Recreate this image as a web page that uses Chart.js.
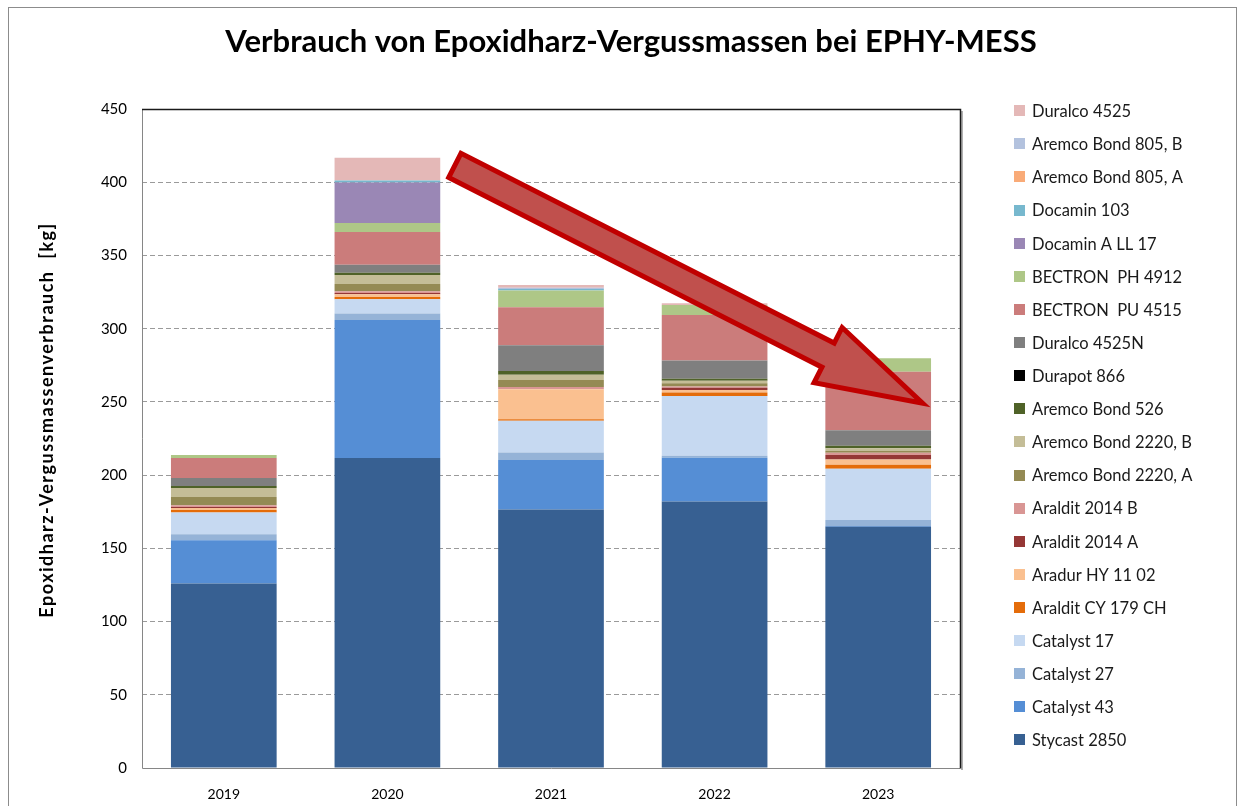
<!DOCTYPE html>
<html>
<head>
<meta charset="utf-8">
<script src="https://cdn.jsdelivr.net/npm/chart.js@4.4.1/dist/chart.umd.min.js"></script>
<style>
  html, body { margin: 0; padding: 0; background: #fff; }
  #wrap { width: 1239px; height: 806px; position: relative; }
</style>
</head>
<body>
<div id="wrap"><canvas id="c" width="1239" height="806"></canvas></div>
<script>
// ---- data (kg) ----
const years = ['2019', '2020', '2021', '2022', '2023'];
const yTicks = [0, 50, 100, 150, 200, 250, 300, 350, 400, 450];

const stycast2850   = [126.0, 211.6, 176.6, 182.0, 164.7];
const catalyst43    = [29.5, 94.4, 33.8, 29.8, 0.5];
const catalyst27    = [4.1, 4.3, 5.0, 1.4, 4.1];
const catalyst17    = [14.8, 9.8, 21.8, 40.9, 35.0];
const aralditCY179  = [1.8, 1.6, 0.9, 2.3, 2.7];
const aradurHY1102  = [1.4, 1.8, 20.5, 1.8, 3.6];
const araldit2014A  = [0.7, 0.9, 0.0, 1.4, 3.2];
const araldit2014B  = [1.1, 1.1, 1.6, 0.9, 1.4];
const aremco2220A   = [5.7, 5.0, 4.8, 2.3, 1.4];
const aremco2220B   = [6.1, 6.1, 3.6, 1.6, 1.8];
const aremco526     = [1.4, 1.6, 2.5, 1.4, 1.6];
const durapot866    = [0, 0, 0, 0, 0];
const duralco4525N  = [5.5, 5.5, 17.5, 12.5, 10.7];
const bectronPU4515 = [13.6, 22.3, 26.1, 31.1, 39.8];
const bectronPH4912 = [2.0, 6.1, 11.4, 6.8, 9.3];
const docaminALL17  = [0, 27.7, 0, 0, 0];
const docamin103    = [0, 1.4, 1.0, 0, 0];
const aremco805A    = [0, 0, 0, 0, 0];
const aremco805B    = [0, 0, 0.8, 0, 0];
const duralco4525   = [0, 15.5, 2.0, 1.1, 0];

const seriesNames = [
  'Stycast 2850', 'Catalyst 43', 'Catalyst 27', 'Catalyst 17', 'Araldit CY 179 CH',
  'Aradur HY 11 02', 'Araldit 2014 A', 'Araldit 2014 B', 'Aremco Bond 2220, A',
  'Aremco Bond 2220, B', 'Aremco Bond 526', 'Durapot 866', 'Duralco 4525N',
  'BECTRON  PU 4515', 'BECTRON  PH 4912', 'Docamin A LL 17', 'Docamin 103',
  'Aremco Bond 805, A', 'Aremco Bond 805, B', 'Duralco 4525'
];
const seriesValues = [
  stycast2850, catalyst43, catalyst27, catalyst17, aralditCY179,
  aradurHY1102, araldit2014A, araldit2014B, aremco2220A,
  aremco2220B, aremco526, durapot866, duralco4525N,
  bectronPU4515, bectronPH4912, docaminALL17, docamin103,
  aremco805A, aremco805B, duralco4525
];
const seriesColors = [
  '#376092', '#558ED5', '#95B3D7', '#C6D9F1', '#E46C0A',
  '#FAC090', '#953735', '#D99694', '#948A54',
  '#C4BD97', '#4F6228', '#000000', '#7F7F7F',
  '#CB7C7B', '#AEC787', '#9A87B5', '#77B8CE',
  '#F9AB78', '#B3C2DE', '#E4B8B7'
];

const titleText = 'Verbrauch von Epoxidharz-Vergussmassen bei EPHY-MESS';
const yTitleText = 'Epoxidharz-Vergussmassenverbrauch  [kg]';

const FONT = 'Lato, "Open Sans", sans-serif';

const datasets = seriesNames.map((name, i) => ({
  label: name,
  data: seriesValues[i],
  backgroundColor: seriesColors[i],
  borderWidth: 0,
  categoryPercentage: 1.0,
  barPercentage: 0.646
}));

const decor = {
  id: 'decor',
  beforeDraw(chart) {
    const ctx = chart.ctx;
    ctx.save();
    ctx.fillStyle = '#ffffff';
    ctx.fillRect(0, 0, chart.width, chart.height);
    ctx.strokeStyle = '#8c8c8c';
    ctx.lineWidth = 1;
    ctx.strokeRect(8.5, 7.5, chart.width - 11, chart.height - 6);
    ctx.restore();
  },
  afterDatasetsDraw(chart) {
    const ctx = chart.ctx;
    const a = chart.chartArea;
    ctx.save();
    ctx.lineWidth = 1;
    ctx.strokeStyle = '#868686';
    ctx.beginPath();
    ctx.moveTo(a.left + 0.5, a.top);
    ctx.lineTo(a.left + 0.5, a.bottom + 0.5);
    ctx.lineTo(a.right, a.bottom + 0.5);
    ctx.stroke();
    ctx.strokeStyle = '#b0b0b0';
    ctx.lineWidth = 2;
    ctx.beginPath();
    ctx.moveTo(a.right + 2, a.top + 2);
    ctx.lineTo(a.right + 2, a.bottom + 2);
    ctx.stroke();
    ctx.strokeStyle = '#1a1a1a';
    ctx.lineWidth = 1.5;
    ctx.beginPath();
    ctx.moveTo(a.left, a.top + 0.5);
    ctx.lineTo(a.right + 0.5, a.top + 0.5);
    ctx.lineTo(a.right + 0.5, a.bottom + 0.5);
    ctx.stroke();

    const xs = chart.scales.x, ys = chart.scales.y;
    const tx = xs.getPixelForValue(1.396), ty = ys.getPixelForValue(412.4);
    const hx = xs.getPixelForValue(4.293), hy = ys.getPixelForValue(247.9);
    const dx = hx - tx, dy = hy - ty;
    const len = Math.hypot(dx, dy);
    const ux = dx / len, uy = dy / len;
    const nx = -uy, ny = ux;
    const w = 13.5, h = 31, headLen = 106;
    const tipX = hx - ux * 4, tipY = hy - uy * 4;
    const bx = tipX - ux * headLen, by = tipY - uy * headLen;
    const tailX = tx + ux * 3, tailY = ty + uy * 3;
    ctx.beginPath();
    ctx.moveTo(tailX + nx * w, tailY + ny * w);
    ctx.lineTo(bx + nx * w, by + ny * w);
    ctx.lineTo(bx + nx * h, by + ny * h);
    ctx.lineTo(tipX, tipY);
    ctx.lineTo(bx - nx * h, by - ny * h);
    ctx.lineTo(bx - nx * w, by - ny * w);
    ctx.lineTo(tailX - nx * w, tailY - ny * w);
    ctx.closePath();
    ctx.fillStyle = '#C0504D';
    ctx.fill();
    ctx.lineJoin = 'miter';
    ctx.miterLimit = 10;
    ctx.lineWidth = 5;
    ctx.strokeStyle = '#C00000';
    ctx.stroke();
    ctx.restore();
  },
  afterDraw(chart) {
    const ctx = chart.ctx;
    ctx.save();
    ctx.fillStyle = '#000000';
    ctx.font = 'bold 31px ' + FONT;
    ctx.textAlign = 'center';
    ctx.textBaseline = 'middle';
    ctx.fillText(titleText, 631, 42);
    // y axis title
    ctx.save();
    ctx.translate(47, 420);
    ctx.rotate(-Math.PI / 2);
    ctx.font = 'bold 18px ' + FONT;
    if ('letterSpacing' in ctx) ctx.letterSpacing = '1.5px';
    ctx.fillText(yTitleText, 0, 0);
    ctx.restore();
    // legend
    ctx.font = '16.5px ' + FONT;
    ctx.textAlign = 'left';
    const ds = chart.data.datasets;
    const n = ds.length;
    for (let k = 0; k < n; k++) {
      const d = ds[n - 1 - k];
      const cy = 110.7 + k * 33.12;
      ctx.fillStyle = d.backgroundColor;
      ctx.fillRect(1014, Math.round(cy - 5.5), 11, 11);
      ctx.fillStyle = '#1a1a1a';
      ctx.fillText(d.label, 1032, cy + 1);
    }
    ctx.restore();
  }
};

async function build() {
  try { await document.fonts.load('16px Lato'); await document.fonts.load('bold 16px Lato'); } catch (e) {}
  new Chart(document.getElementById('c'), {
    type: 'bar',
    data: { labels: years, datasets },
    plugins: [decor],
    options: {
      responsive: false,
      animation: false,
      layout: { padding: { top: 109, right: 279, bottom: 0, left: 0 } },
      plugins: {
        legend: { display: false },
        title: { display: false },
        tooltip: { enabled: false }
      },
      scales: {
        x: {
          stacked: true,
          grid: { display: false, drawTicks: false },
          border: { display: false },
          ticks: { color: '#000', font: { family: FONT, size: 14 }, padding: 18 },
          afterFit(s) { s.height = 38; }
        },
        y: {
          stacked: true,
          min: 0, max: 450,
          afterBuildTicks(s) { s.ticks = yTicks.map(v => ({ value: v })); },
          grid: {
            drawTicks: false,
            color: (c) => (c.tick && (c.tick.value === 0 || c.tick.value === 450)) ? 'rgba(0,0,0,0)' : '#9a9a9a',
            lineWidth: 1
          },
          border: { display: false, dash: [5, 3] },
          ticks: { color: '#000', font: { family: FONT, size: 15 }, padding: 15 },
          title: { display: false },
          afterFit(s) { s.width = 142; }
        }
      }
    }
  });
}
build();
</script>
</body>
</html>
